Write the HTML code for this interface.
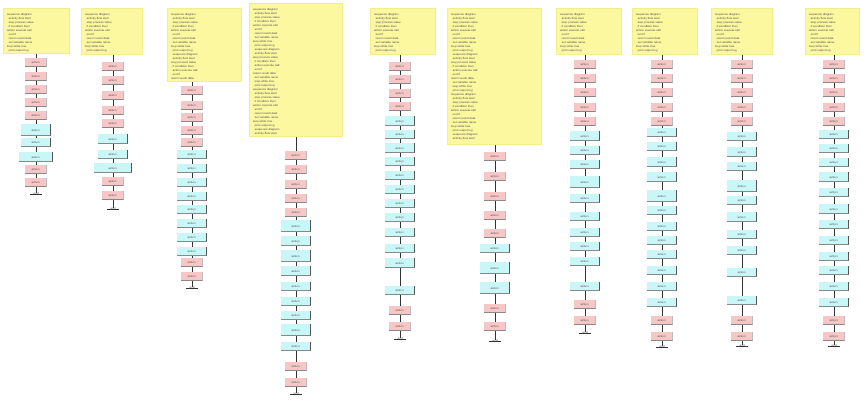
<!DOCTYPE html>
<html><head><meta charset="utf-8"><style>
body{margin:0;width:864px;height:400px;background:#fff;position:relative;overflow:hidden;font-family:"Liberation Sans",sans-serif}
.n{position:absolute;box-sizing:border-box;font-size:3px;color:#555;text-align:center;line-height:9px;overflow:hidden}
.note{position:absolute;background:#fbf8a0;border:1px solid #f3ee8c;box-sizing:border-box;font-size:3px;color:#555;padding:3px;line-height:4px;overflow:hidden}
.l{position:absolute;width:1px;background:#333}
.p{background:#f7c6c6;border-bottom:1px solid #888;border-right:1px solid #bbb}
.c{background:#c9f7f7;border-bottom:1px solid #888;border-right:1px solid #555}
</style></head><body>
<div id="r"></div>
<script>
var cols=[
[36,3,8,67,46,[[58,'p'],[72,'p'],[85,'p'],[98,'p'],[111,'p'],[124,'c',12],[138,'c'],[152,'c',10,34],[165,'p'],[178,'p']],193],
[113,81,8,62,47,[[62,'p'],[76,'p'],[91,'p'],[106,'p'],[119,'p'],[134,'c',10],[150,'c'],[163,'c',10,38],[177,'p'],[191,'p']],208],
[192,167,8,75,74,[[86,'p'],[101,'p'],[113,'p'],[126,'p'],[138,'p'],[150,'c'],[164,'c'],[178,'c'],[192,'c'],[205,'c'],[219,'c'],[233,'c'],[247,'c'],[258,'p'],[272,'p']],287],
[296,249,3,94,134,[[151,'p'],[165,'p'],[180,'p'],[194,'p'],[208,'p'],[220,'c',12],[236,'c',10],[250,'c',12],[266,'c',10],[282,'c'],[297,'c'],[311,'c'],[324,'c',12],[342,'c'],[362,'p'],[378,'p']],393],
[400,370,8,66,47,[[62,'p'],[75,'p'],[89,'p'],[102,'p'],[116,'c',10],[130,'c'],[143,'c',10],[157,'c'],[171,'c'],[185,'c'],[199,'c'],[213,'c'],[228,'c'],[244,'c'],[258,'c',10],[286,'c'],[306,'p'],[322,'p']],338],
[495,447,8,95,137,[[152,'p'],[172,'p'],[192,'p'],[211,'p'],[229,'p'],[244,'c'],[262,'c',12],[282,'c',12],[304,'p'],[322,'p']],340],
[585,556,8,66,47,[[60,'p'],[74,'p'],[88,'p'],[103,'p'],[117,'p'],[131,'c',10],[146,'c'],[160,'c'],[176,'c',12],[194,'c'],[212,'c'],[228,'c'],[242,'c'],[257,'c'],[282,'c'],[300,'p'],[316,'p']],332],
[662,632,8,66,47,[[60,'p'],[74,'p'],[88,'p'],[103,'p'],[117,'p'],[128,'c'],[142,'c'],[157,'c',10],[172,'c',10],[190,'c',12],[206,'c'],[222,'c'],[236,'c'],[250,'c'],[266,'c'],[282,'c'],[298,'c'],[316,'p'],[332,'p']],346],
[742,711,8,62,47,[[60,'p'],[74,'p'],[88,'p'],[103,'p'],[117,'p'],[132,'c'],[147,'c',10],[162,'c'],[180,'c',12],[196,'c'],[212,'c',10],[230,'c'],[246,'c'],[268,'c'],[296,'c'],[316,'p'],[332,'p']],345],
[834,805,8,55,47,[[60,'p'],[74,'p'],[88,'p'],[103,'p'],[117,'p'],[130,'c'],[144,'c'],[158,'c'],[172,'c',10],[188,'c'],[204,'c',10],[220,'c'],[236,'c'],[252,'c'],[266,'c'],[282,'c'],[298,'c'],[316,'p'],[332,'p']],345]];
var words=['sequence diagram','activity flow start','step process value','if condition then','action execute call','end if','return result data','set variable name','loop while true','print output log'];
var h='';
cols.forEach(function(c){
 var cx=c[0],nodes=c[5],lastY=c[6];
 var lines=Math.floor((c[4]-6)/4),t='';
 for(var i=0;i<lines;i++){t+=(i%4==0?'':'&nbsp;&nbsp;')+words[i%words.length]+'<br>';}
 h+='<div class="note" style="left:'+c[1]+'px;top:'+c[2]+'px;width:'+c[3]+'px;height:'+c[4]+'px">'+t+'</div>';
 var top=c[2]+c[4];
 h+='<div class="l" style="left:'+cx+'px;top:'+top+'px;height:'+(lastY-top)+'px"></div>';
 nodes.forEach(function(n){
  var hh=n[2]||9,w=n[3]||(n[1]=='p'?22:30);
  h+='<div class="n '+n[1]+'" style="left:'+(cx-w/2)+'px;top:'+n[0]+'px;width:'+w+'px;height:'+hh+'px;line-height:'+hh+'px">action</div>';
 });
 h+='<div class="n" style="left:'+(cx-6)+'px;top:'+(lastY-2)+'px;width:12px;height:4px;border-bottom:1px solid #333;line-height:4px">end</div>';
});
document.getElementById('r').innerHTML=h;
</script>
</body></html>
